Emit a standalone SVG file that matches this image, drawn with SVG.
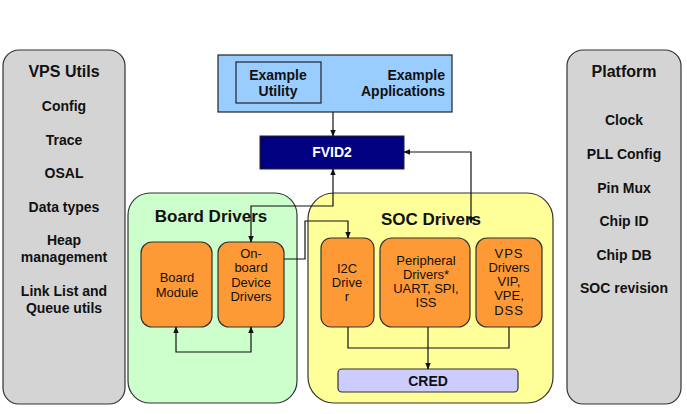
<svg xmlns="http://www.w3.org/2000/svg" width="687" height="414" viewBox="0 0 687 414">
<style>
text{font-family:"Liberation Sans",Arial,sans-serif;fill:#111;text-anchor:middle}
.b{font-weight:bold;font-size:14px}
.t{font-weight:bold;font-size:16px}
.h{font-weight:bold;font-size:17px}
.n{font-size:13px}
.gray{fill:#d4d4d4;stroke:#333;stroke-width:1.2}
.org{fill:#fd9a36;stroke:#333;stroke-width:1.2}
.ln{fill:none;stroke:#111;stroke-width:1.2}
</style>
<defs>
<marker id="ar" viewBox="0 0 10 10" refX="9" refY="5" markerWidth="7" markerHeight="7" orient="auto-start-reverse" markerUnits="userSpaceOnUse">
<path d="M0,1 L10,5 L0,9 z" fill="#111"/>
</marker>
</defs>
<rect width="687" height="414" fill="#fff"/>
<g id="vps-utils">
<rect class="gray" x="3" y="50" width="122" height="354" rx="16"/>
<text class="t" x="64" y="77">VPS Utils</text>
<text class="b" x="64" y="111">Config</text>
<text class="b" x="64" y="145">Trace</text>
<text class="b" x="64" y="178">OSAL</text>
<text class="b" x="64" y="212">Data types</text>
<text class="b" x="64" y="245">Heap</text>
<text class="b" x="64" y="262">management</text>
<text class="b" x="64" y="296">Link List and</text>
<text class="b" x="64" y="313">Queue utils</text>
</g>
<g id="platform">
<rect class="gray" x="567" y="50" width="114" height="354" rx="16"/>
<text class="t" x="624" y="77">Platform</text>
<text class="b" x="624" y="125">Clock</text>
<text class="b" x="624" y="159">PLL Config</text>
<text class="b" x="624" y="193">Pin Mux</text>
<text class="b" x="624" y="226">Chip ID</text>
<text class="b" x="624" y="260">Chip DB</text>
<text class="b" x="624" y="293">SOC revision</text>
</g>
<g id="example-applications">
<rect x="218" y="55" width="234" height="57" fill="#99ccff" stroke="#222" stroke-width="1.2"/>
<text class="b" x="445" y="80" style="text-anchor:end">Example</text>
<text class="b" x="445" y="96" style="text-anchor:end">Applications</text>
</g>
<g id="example-utility">
<rect x="236" y="62" width="85" height="41" fill="#99ccff" stroke="#222" stroke-width="1.2"/>
<text class="b" x="278" y="80">Example</text>
<text class="b" x="278" y="96">Utility</text>
</g>
<g id="fvid2">
<rect x="260" y="136" width="144" height="33" fill="#000080" stroke="#222" stroke-width="1"/>
<text class="b" x="332" y="157" style="fill:#fff">FVID2</text>
</g>
<g id="board-drivers">
<rect x="128" y="193" width="169" height="210" rx="22" fill="#ccffcc" stroke="#333" stroke-width="1.2"/>
<text class="h" x="211" y="222">Board Drivers</text>
</g>
<g id="soc-drivers">
<rect x="308" y="193" width="245" height="210" rx="26" fill="#ffff99" stroke="#333" stroke-width="1.2"/>
<text class="h" x="431" y="225">SOC Drivers</text>
</g>
<g id="board-module">
<rect class="org" x="141" y="242" width="71" height="85" rx="11"/>
<text class="n" x="177" y="282">Board</text>
<text class="n" x="177" y="297">Module</text>
</g>
<g id="onboard-device-drivers">
<rect class="org" x="218" y="242" width="66" height="85" rx="11"/>
<text class="n" x="251" y="258">On-</text>
<text class="n" x="251" y="272">board</text>
<text class="n" x="251" y="287">Device</text>
<text class="n" x="251" y="301">Drivers</text>
</g>
<g id="i2c-driver">
<rect class="org" x="321" y="238" width="53" height="89" rx="10"/>
<text class="n" x="347" y="273">I2C</text>
<text class="n" x="347" y="287">Drive</text>
<text class="n" x="347" y="301">r</text>
</g>
<g id="peripheral-drivers">
<rect class="org" x="380" y="238" width="90" height="89" rx="12"/>
<text class="n" x="426" y="265">Peripheral</text>
<text class="n" x="426" y="279">Drivers*</text>
<text class="n" x="426" y="293">UART, SPI,</text>
<text class="n" x="426" y="307">ISS</text>
</g>
<g id="vps-drivers">
<rect class="org" x="476" y="238" width="66" height="89" rx="11"/>
<text class="n" x="509" y="258" style="letter-spacing:1px">VPS</text>
<text class="n" x="509" y="272">Drivers</text>
<text class="n" x="509" y="286">VIP,</text>
<text class="n" x="509" y="300">VPE,</text>
<text class="n" x="509" y="315" style="letter-spacing:1px">DSS</text>
</g>
<g id="cred">
<rect x="338" y="369" width="180" height="23" rx="4" fill="#ccccff" stroke="#333" stroke-width="1.2"/>
<text class="b" x="428" y="386">CRED</text>
</g>
<g id="connectors">
<path class="ln" d="M333,112 V136" marker-end="url(#ar)"/>
<path class="ln" d="M333,169 V206 H251 V242" marker-start="url(#ar)" marker-end="url(#ar)"/>
<path class="ln" d="M284,259 H305 V221 H348 V238" marker-end="url(#ar)"/>
<path class="ln" d="M404,152 H471 V223" marker-start="url(#ar)" marker-end="url(#ar)"/>
<path class="ln" d="M176,327 V352 H251 V327" marker-start="url(#ar)" marker-end="url(#ar)"/>
<path class="ln" d="M348,327 V348 H509 V327"/>
<path class="ln" d="M428,327 V369" marker-end="url(#ar)"/>
</g>
</svg>
